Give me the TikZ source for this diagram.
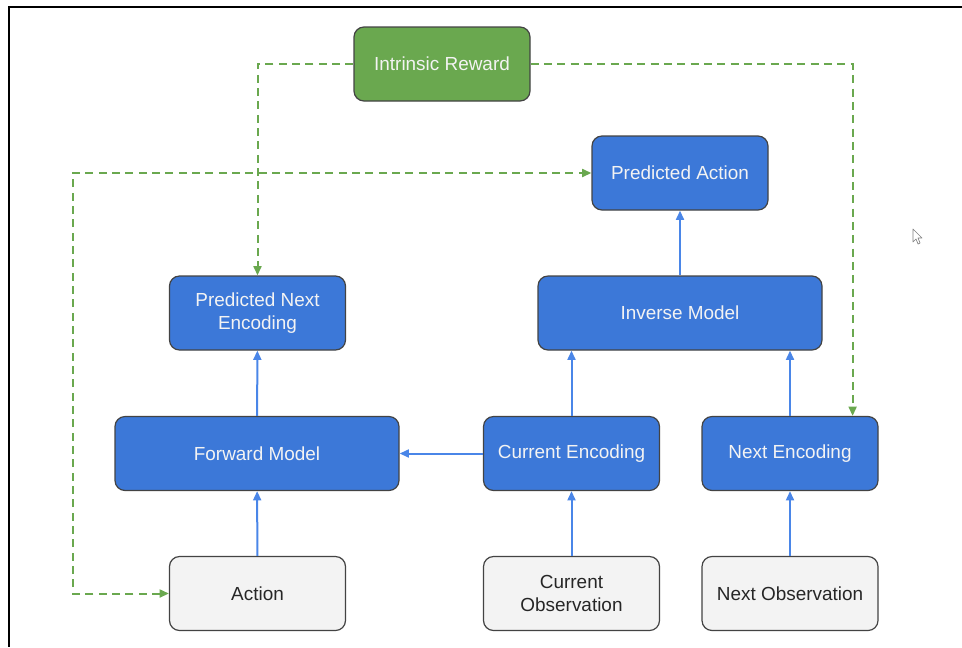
\documentclass[tikz,border=0pt]{standalone}
\usepackage{fontspec}
\setmainfont{Liberation Sans}
\usetikzlibrary{arrows.meta,positioning}

\definecolor{encblue}{HTML}{3C78D8}
\definecolor{arrblue}{HTML}{4A86E8}
\definecolor{rewgreen}{HTML}{6AA84F}
\definecolor{obsgray}{HTML}{F3F3F3}
\definecolor{boxline}{HTML}{434343}

\begin{document}
\begin{tikzpicture}[
    x=0.75pt, y=-0.75pt,
    every node/.style={font=\fontsize{14.2}{17}\selectfont},
    bx/.style={rectangle, rounded corners=7.5pt, draw=boxline, line width=0.9pt,
               minimum width=132pt, minimum height=55.5pt, inner sep=2pt, align=center},
    enc/.style={bx, fill=encblue, text=obsgray},
    obs/.style={bx, fill=obsgray, text=black!85},
    rwd/.style={bx, fill=rewgreen, text=obsgray},
    wide/.style={minimum width=213pt},
    e/.style={draw=arrblue, line width=1.5pt, -{Triangle[length=7pt, width=6pt]}},
    fb/.style={draw=rewgreen, line width=1.5pt, dash pattern=on 6pt off 4pt,
               -{Triangle[length=7pt, width=6pt]}},
  ]
  \useasboundingbox (0,0) rectangle (962,647);
  % window frame
  \draw[line width=2.2pt] (962,7) -- (9,7) -- (9,647);

  \node[rwd] (rew) at (442,64) {Intrinsic Reward};
  \node[enc] (pact) at (680,173) {Predicted Action};
  \node[enc, wide] (inv) at (680,313) {Inverse Model};
  \node[enc] (pne) at (257.5,313) {Predicted Next\\Encoding};
  \node[enc, wide] (fwd) at (257,453.5) {Forward Model};
  \node[enc] (ce) at (571.5,453.5) {Current Encoding};
  \node[enc] (ne) at (790,453.5) {Next Encoding};
  \node[obs] (act) at (257.5,593.5) {Action};
  \node[obs] (co) at (571.5,593.5) {Current\\Observation};
  \node[obs] (no) at (790,593.5) {Next Observation};
  \coordinate (lft) at (73,0);

  % encoders and models
  \draw[e] (act) -- (fwd);
  \draw[e] (fwd) -- (pne);
  \draw[e] (ce) -- (fwd);
  \draw[e] (co) -- (ce);
  \draw[e] (no) -- (ne);
  \draw[e] (ce) -- (ce |- inv.south);
  \draw[e] (ne) -- (ne |- inv.south);
  \draw[e] (inv) -- (pact);

  % reward feedback
  \draw[fb] (rew.west) -| (pne.north);
  \draw[fb] (rew.east) -| ([xshift=-19.5pt]ne.north east);
  \draw[fb, {Triangle[length=7pt, width=6pt]}-{Triangle[length=7pt, width=6pt]}]
    (act.west) -- (act.west -| lft) |- (pact.west);

  % pointer
  \draw[gray, line width=0.5pt, fill=white, line join=round]
    (913,229) -- (913,242) -- (916,239) -- (918,244) -- (920,243)
    -- (918,238) -- (922,238) -- cycle;
\end{tikzpicture}
\end{document}
